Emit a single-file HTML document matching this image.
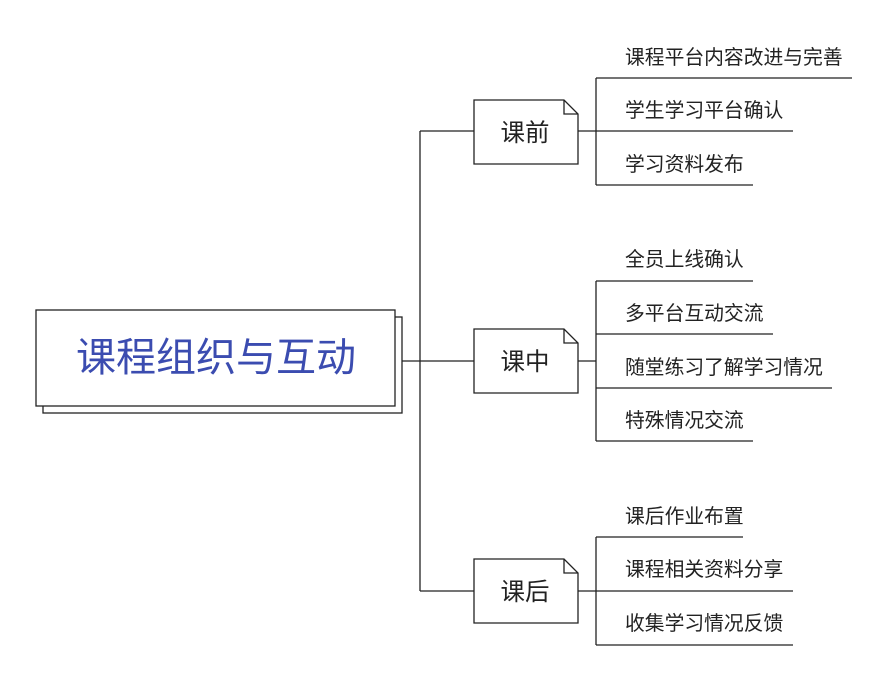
<!DOCTYPE html>
<html><head><meta charset="utf-8"><style>
html,body{margin:0;padding:0;background:#fff;}
svg{display:block;}
text{font-family:"Liberation Sans","Noto Sans CJK SC",sans-serif;fill:#222;}
</style></head><body>
<svg width="888" height="681" viewBox="0 0 888 681" xmlns="http://www.w3.org/2000/svg">
<g stroke="#222" stroke-width="1.3" fill="none">
<rect x="43" y="317" width="359" height="96" fill="#fff"/>
<rect x="36" y="310" width="359" height="96" fill="#fff"/>
<line x1="402" y1="361" x2="474" y2="361"/>
<line x1="420" y1="131" x2="420" y2="591"/>
<line x1="420" y1="131" x2="474" y2="131"/>
<line x1="420" y1="591" x2="474" y2="591"/>
<path d="M474 100 H564 L578 114 V164 H474 Z" fill="#fff"/>
<path d="M564 100 V114 H578"/>
<path d="M474 329 H564 L578 343 V393 H474 Z" fill="#fff"/>
<path d="M564 329 V343 H578"/>
<path d="M474 559 H564 L578 573 V623 H474 Z" fill="#fff"/>
<path d="M564 559 V573 H578"/>
<line x1="578" y1="131" x2="596" y2="131"/>
<line x1="578" y1="361" x2="596" y2="361"/>
<line x1="578" y1="591" x2="596" y2="591"/>
<line x1="596" y1="78" x2="596" y2="185"/>
<line x1="596" y1="78" x2="852" y2="78"/>
<line x1="596" y1="131" x2="793" y2="131"/>
<line x1="596" y1="185" x2="753" y2="185"/>
<line x1="596" y1="281" x2="596" y2="441"/>
<line x1="596" y1="281" x2="753" y2="281"/>
<line x1="596" y1="334" x2="773" y2="334"/>
<line x1="596" y1="388" x2="832" y2="388"/>
<line x1="596" y1="441" x2="753" y2="441"/>
<line x1="596" y1="537" x2="596" y2="645"/>
<line x1="596" y1="537" x2="743" y2="537"/>
<line x1="596" y1="591" x2="793" y2="591"/>
<line x1="596" y1="645" x2="793" y2="645"/>
</g>
<text x="216" y="371" font-size="40" text-anchor="middle" style="fill:#3b4cb0">课程组织与互动</text>
<text x="525" y="141" font-size="24.5" text-anchor="middle">课前</text>
<text x="525" y="370" font-size="24.5" text-anchor="middle">课中</text>
<text x="525" y="600" font-size="24.5" text-anchor="middle">课后</text>
<g font-size="19.8">
<text x="625" y="64">课程平台内容改进与完善</text>
<text x="625" y="117">学生学习平台确认</text>
<text x="625" y="171">学习资料发布</text>
<text x="625" y="266">全员上线确认</text>
<text x="625" y="320">多平台互动交流</text>
<text x="625" y="374">随堂练习了解学习情况</text>
<text x="625" y="427">特殊情况交流</text>
<text x="625" y="523">课后作业布置</text>
<text x="625" y="576">课程相关资料分享</text>
<text x="625" y="630">收集学习情况反馈</text>
</g>
</svg>
</body></html>
